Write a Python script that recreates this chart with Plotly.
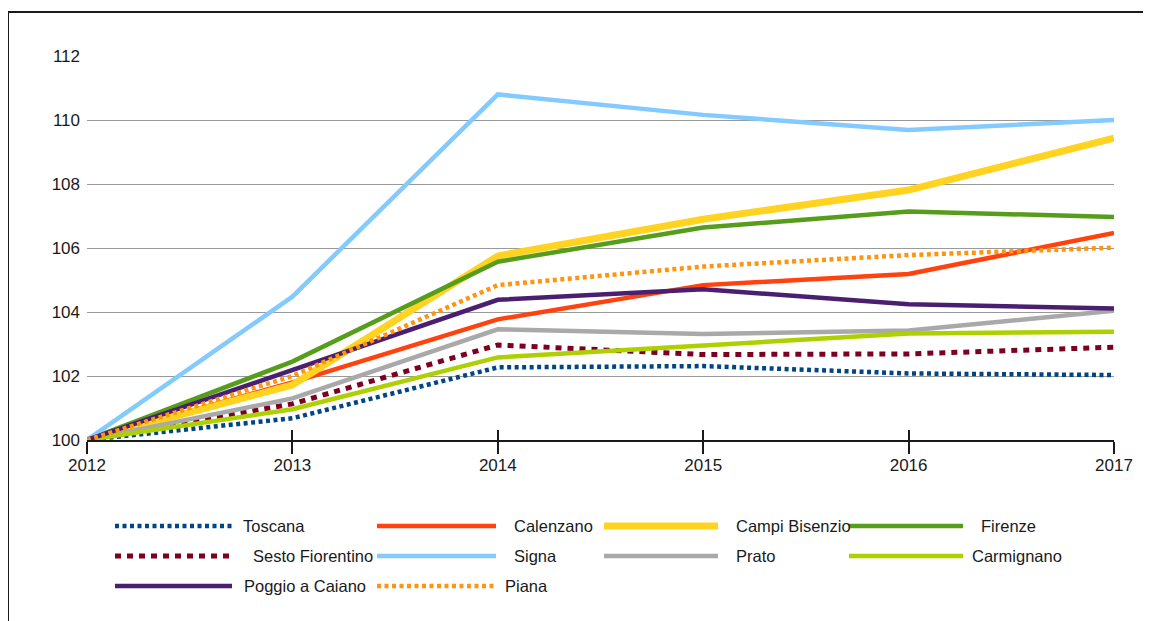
import plotly.graph_objects as go

years = [2012, 2013, 2014, 2015, 2016, 2017]

toscana = [100, 100.68, 102.27, 102.31, 102.08, 102.03]
calenzano = [100, 101.80, 103.77, 104.84, 105.19, 106.47]
campi_bisenzio = [100, 101.72, 105.75, 106.90, 107.81, 109.43]
firenze = [100, 102.45, 105.57, 106.64, 107.14, 106.97]
sesto_fiorentino = [100, 101.13, 102.97, 102.67, 102.69, 102.90]
signa = [100, 104.48, 110.80, 110.16, 109.69, 110.00]
prato = [100, 101.30, 103.46, 103.31, 103.42, 104.04]
carmignano = [100, 100.96, 102.58, 102.97, 103.33, 103.38]
poggio_a_caiano = [100, 102.19, 104.38, 104.71, 104.24, 104.11]
piana = [100, 102.00, 104.84, 105.42, 105.78, 106.01]

series_names = ["Toscana", "Calenzano", "Campi Bisenzio", "Firenze",
                "Sesto Fiorentino", "Signa", "Prato", "Carmignano",
                "Poggio a Caiano", "Piana"]
series_values = [toscana, calenzano, campi_bisenzio, firenze,
                 sesto_fiorentino, signa, prato, carmignano,
                 poggio_a_caiano, piana]

y_ticks = [100, 102, 104, 106, 108, 110, 112]

# styles
colors = ["#004586", "#ff420e", "#ffd320", "#579d1c", "#7e0021",
          "#83caff", "#a9a9a9", "#aecf00", "#4b1f6f", "#ff950e"]
widths = [4.5, 4.5, 7, 4.5, 5, 4.5, 4.5, 4.5, 4.5, 4.5]
dashes = ["4px,3.5px", "solid", "solid", "solid", "6px,6px",
          "solid", "solid", "solid", "solid", "4px,3.5px"]

FONT = "Liberation Sans, Arial"
OFF = 8  # page body margin
W, H = 1151 - OFF, 621 - OFF
# plot area in screenshot pixels
SL, SR, ST, SB = 87, 1114, 56, 440
L, R, T, B = SL - OFF, SR - OFF, ST - OFF, SB - OFF


def px(xs):
    return (xs - SL) / (SR - SL)


def py(ys):
    return (SB - ys) / (SB - ST)


fig = go.Figure()
for name, vals, c, w, d in zip(series_names, series_values, colors, widths, dashes):
    fig.add_trace(go.Scatter(x=years, y=vals, mode="lines", name=name,
                             line=dict(color=c, width=w, dash=d),
                             showlegend=False, hoverinfo="x+y+name"))

# manual legend (row-major, 4 columns), screenshot pixel positions
line_x = [(115, 232), (377, 496), (604, 718), (849, 963)]
text_x = [[242, 513, 735, 980], [252, 513, 735, 971], [243, 504]]
row_y = [526, 556, 586]
shapes = []
annotations = []
for i, name in enumerate(series_names):
    r, c = divmod(i, 4)
    x0, x1 = line_x[c]
    yy = row_y[r]
    shapes.append(dict(type="line", xref="paper", yref="paper",
                       x0=px(x0), x1=px(x1), y0=py(yy), y1=py(yy),
                       line=dict(color=colors[i], width=widths[i], dash=dashes[i])))
    annotations.append(dict(xref="paper", yref="paper", x=px(text_x[r][c] - 1), y=py(yy),
                            text=name, showarrow=False, xanchor="left", yanchor="middle",
                            font=dict(family=FONT, size=16.5, color="#1a1a1a")))

# outer frame
shapes.append(dict(type="rect", xref="paper", yref="paper",
                   x0=px(8), x1=px(1170), y0=py(640), y1=py(12),
                   line=dict(color="#1a1a1a", width=2), fillcolor="rgba(0,0,0,0)",
                   layer="below"))

fig.update_layout(
    width=W, height=H,
    margin=dict(l=L, r=W - R, t=T, b=H - B, pad=0),
    paper_bgcolor="white", plot_bgcolor="white",
    shapes=shapes, annotations=annotations,
    xaxis=dict(range=[2012, 2017], tickvals=years, ticktext=[str(y) for y in years],
               showgrid=False, zeroline=False, showline=True, linecolor="#1a1a1a",
               linewidth=2, ticks="outside", ticklen=12, tickwidth=2, tickcolor="#1a1a1a",
               ticklabelstandoff=-3,
               tickfont=dict(family=FONT, size=17, color="#1a1a1a")),
    xaxis2=dict(range=[2012, 2017], tickvals=years, overlaying="x", anchor="y",
                side="bottom", showgrid=False, zeroline=False, showline=False,
                ticks="inside", ticklen=10, tickwidth=2, tickcolor="#1a1a1a",
                showticklabels=False),
    yaxis=dict(range=[100, 112], tickvals=y_ticks, showgrid=True, gridcolor="#999999",
               gridwidth=1.3, zeroline=False, showline=False, ticks="",
               ticklabelstandoff=6,
               tickfont=dict(family=FONT, size=17, color="#1a1a1a")),
)
fig.add_trace(go.Scatter(x=[2012], y=[100], xaxis="x2", mode="markers",
                         marker=dict(opacity=0), showlegend=False, hoverinfo="skip"))

fig.write_html("out.html")
